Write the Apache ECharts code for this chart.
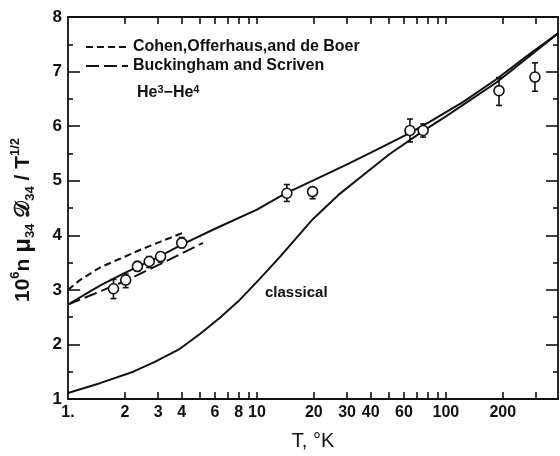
<!DOCTYPE html>
<html>
<head>
<meta charset="utf-8">
<script src="https://cdn.jsdelivr.net/npm/echarts@6/dist/echarts.min.js"></script>
<style>
    html, body { margin: 0; padding: 0; background: #fff; }
    #chart { width: 560px; height: 456px; }
</style>
</head>
<body>
<div id="chart"></div>
<script>
    // solid curve through the data
    var quantumT = [1, 1.25, 1.5, 2, 3, 4, 6, 10, 14, 20, 30, 45, 65, 82, 123, 185, 267, 392];
    var quantumV = [2.73, 2.93, 3.09, 3.31, 3.60, 3.83, 4.12, 4.47, 4.76, 5.01, 5.30, 5.60, 5.88, 6.08, 6.44, 6.86, 7.28, 7.70];
    // classical curve
    var classicalT = [1, 1.476, 2.216, 2.88, 3.91, 4.99, 6.37, 8.13, 10.4, 13.2, 19.8, 27, 36.4, 50, 75.6, 100, 185, 392];
    var classicalV = [1.11, 1.29, 1.50, 1.68, 1.92, 2.19, 2.49, 2.82, 3.21, 3.60, 4.30, 4.74, 5.10, 5.48, 5.91, 6.18, 6.80, 7.70];
    // Cohen, Offerhaus, and de Boer (short dashes)
    var cohenT = [1, 1.157, 1.476, 1.885, 2.40, 3.07, 4.16];
    var cohenV = [3.00, 3.18, 3.41, 3.57, 3.73, 3.88, 4.06];
    // Buckingham and Scriven (long dashes)
    var buckT = [1, 1.476, 2.0, 3.07, 5.18];
    var buckV = [2.73, 2.97, 3.16, 3.47, 3.86];
    // measured points with error bars
    var pointT = [1.74, 2.02, 2.33, 2.69, 3.09, 4.0, 14.4, 19.7, 64.5, 75.8, 191, 296];
    var pointV = [3.02, 3.18, 3.43, 3.52, 3.61, 3.86, 4.77, 4.80, 5.92, 5.92, 6.65, 6.90];
    var errLow = [2.84, 3.04, 3.34, 3.41, 3.51, 3.77, 4.62, 4.67, 5.71, 5.80, 6.38, 6.64];
    var errHigh = [3.19, 3.29, 3.52, 3.61, 3.69, 3.96, 4.93, 4.87, 6.13, 6.04, 6.89, 7.16];
    // x axis ticks and labels
    var xTicks = [2, 3, 4, 5, 6, 7, 8, 9, 10, 20, 30, 40, 50, 60, 70, 80, 90, 100, 200, 300];
    var xLabels = [1, 2, 3, 4, 6, 8, 10, 20, 30, 40, 60, 100, 200];

    function zip(a, b) {
        return a.map(function (v, i) { return [v, b[i]]; });
    }

    var ink = '#111';
    var font = 'Liberation Sans';

    function renderErrorBar(params, api) {
        var t = api.value(0);
        var lo = api.coord([t, api.value(1)]);
        var hi = api.coord([t, api.value(2)]);
        var w = 3;
        var style = { stroke: ink, lineWidth: 1.6 };
        return {
            type: 'group',
            children: [
                { type: 'line', shape: { x1: lo[0], y1: lo[1], x2: hi[0], y2: hi[1] }, style: style },
                { type: 'line', shape: { x1: lo[0] - w, y1: lo[1], x2: lo[0] + w, y2: lo[1] }, style: style },
                { type: 'line', shape: { x1: hi[0] - w, y1: hi[1], x2: hi[0] + w, y2: hi[1] }, style: style }
            ]
        };
    }

    var myChart = echarts.init(document.getElementById('chart'));

    var xBase = {
        type: 'log',
        logBase: 10,
        min: 1,
        max: 392,
        axisLine: { lineStyle: { color: ink, width: 1.8 } },
        splitLine: { show: false },
        axisTick: { inside: true, length: 7, lineStyle: { color: ink, width: 1.6 }, customValues: xTicks }
    };
    var yBase = {
        type: 'value',
        min: 1,
        max: 8,
        interval: 1,
        axisLine: { show: true, lineStyle: { color: ink, width: 1.8 } },
        splitLine: { show: false },
        axisTick: { inside: true, length: 12, lineStyle: { color: ink, width: 1.6 } },
        minorTick: { show: true, splitNumber: 2, length: 5, lineStyle: { color: ink, width: 1.6 } }
    };

    var lineBase = {
        type: 'line',
        symbol: 'none',
        showSymbol: false,
        smooth: false,
        itemStyle: { color: ink }
    };

    var option = {
        animation: false,
        backgroundColor: '#fff',
        textStyle: { fontFamily: font, color: ink },
        grid: { left: 68, right: 2, top: 17, bottom: 50 },
        legend: {
            data: ['Cohen,Offerhaus,and de Boer', 'Buckingham and Scriven'],
            orient: 'vertical',
            left: 80,
            top: 34,
            itemWidth: 42,
            itemHeight: 14,
            itemGap: 3,
            itemStyle: { color: 'rgba(0,0,0,0)', borderColor: 'rgba(0,0,0,0)', borderWidth: 0 },
            textStyle: { fontFamily: font, fontSize: 16, fontWeight: 'bold', color: ink, lineHeight: 16 }
        },
        xAxis: [
            Object.assign({}, xBase, {
                position: 'bottom',
                name: 'T, °K',
                nameLocation: 'middle',
                nameGap: 32,
                nameTextStyle: { fontFamily: font, fontSize: 20, color: ink },
                axisLabel: {
                    customValues: xLabels,
                    margin: 6,
                    fontFamily: font,
                    fontSize: 16,
                    fontWeight: 'bold',
                    color: ink,
                    formatter: function (v) {
                        var n = +(+v).toPrecision(3);
                        return n === 1 ? '1.' : String(n);
                    }
                }
            }),
            Object.assign({}, xBase, {
                position: 'top',
                axisLabel: { show: false }
            })
        ],
        yAxis: [
            Object.assign({}, yBase, {
                position: 'left',
                name: '10{sup|6}n {mu|\u03bc}{sub|34} \u{1D49F}{sub|34} / T{sup|1/2}',
                nameLocation: 'middle',
                nameRotate: 90,
                nameGap: 31,
                nameTextStyle: {
                    fontFamily: font,
                    fontSize: 21,
                    fontWeight: 'bold',
                    color: ink,
                    lineHeight: 28,
                    padding: [0, 24, 0, 0],
                    rich: {
                        mu: { fontSize: 24, fontWeight: 'bold', lineHeight: 28 },
                        sup: { fontSize: 13, fontWeight: 'bold', verticalAlign: 'top', lineHeight: 15 },
                        sub: { fontSize: 13, fontWeight: 'bold', verticalAlign: 'bottom', lineHeight: 15 }
                    }
                },
                axisLabel: { margin: 6, fontFamily: font, fontSize: 17, fontWeight: 'bold', color: ink }
            }),
            Object.assign({}, yBase, {
                position: 'right',
                axisLabel: { show: false }
            })
        ],
        graphic: [
            {
                type: 'text',
                left: 137,
                top: 84,
                style: {
                    text: 'He{sup|3}\u2212He{sup|4}',
                    font: 'bold 16px ' + font,
                    fill: ink,
                    rich: {
                        sup: { fontSize: 11, fontWeight: 'bold', verticalAlign: 'top', padding: [0, 0, 6, 0] }
                    }
                }
            },
            {
                type: 'text',
                left: 265,
                top: 285,
                style: { text: 'classical', font: 'bold 15px ' + font, fill: ink }
            }
        ],
        series: [
            Object.assign({}, lineBase, {
                name: 'quantum',
                data: zip(quantumT, quantumV),
                lineStyle: { color: ink, width: 2 }
            }),
            Object.assign({}, lineBase, {
                name: 'classical',
                data: zip(classicalT, classicalV),
                lineStyle: { color: ink, width: 2 }
            }),
            Object.assign({}, lineBase, {
                name: 'Cohen,Offerhaus,and de Boer',
                data: zip(cohenT, cohenV),
                lineStyle: { color: ink, width: 2, type: [7, 4] }
            }),
            Object.assign({}, lineBase, {
                name: 'Buckingham and Scriven',
                data: zip(buckT, buckV),
                lineStyle: { color: ink, width: 2, type: [13, 5] }
            }),
            {
                name: 'errors',
                type: 'custom',
                renderItem: renderErrorBar,
                encode: { x: 0, y: [1, 2] },
                data: pointT.map(function (t, i) { return [t, errLow[i], errHigh[i]]; }),
                z: 3
            },
            {
                name: 'points',
                type: 'scatter',
                data: zip(pointT, pointV),
                symbol: 'circle',
                symbolSize: 10,
                itemStyle: { color: '#fff', borderColor: ink, borderWidth: 1.6, opacity: 1 },
                z: 4
            }
        ]
    };

    myChart.setOption(option);
</script>
</body>
</html>
